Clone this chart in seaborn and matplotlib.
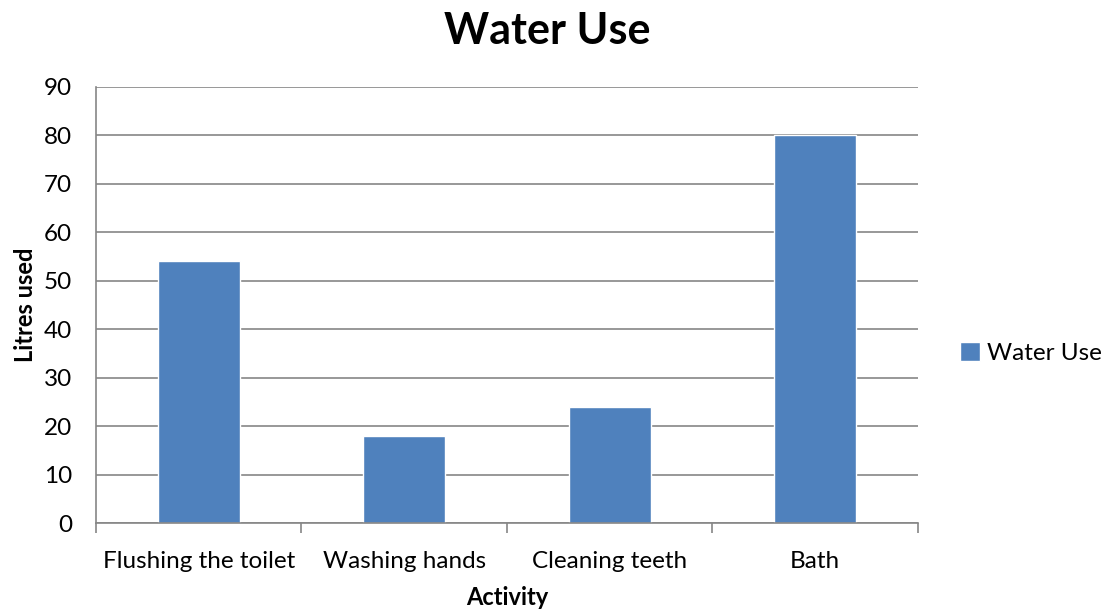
import matplotlib
matplotlib.use("Agg")
import matplotlib.pyplot as plt
import seaborn as sns
import pandas as pd

activities = ["Flushing the toilet", "Washing hands", "Cleaning teeth", "Bath"]
litres = [54, 18, 24, 80]
series_name = "Water Use"
y_ticks = [0, 10, 20, 30, 40, 50, 60, 70, 80, 90]

sns.set_theme(style="white")
plt.rcParams['font.family'] = ['Lato', 'DejaVu Sans']
plt.rcParams['text.color'] = 'black'
plt.rcParams['axes.labelcolor'] = 'black'

df = pd.DataFrame({"Activity": activities, "Litres used": litres, "Series": series_name})

fig = plt.figure(figsize=(11.02, 6.12), dpi=100)
ax = fig.add_axes([0.0871, 0.1454, 0.7459, 0.7126])

sns.barplot(data=df, x="Activity", y="Litres used", hue="Series", palette=["#4F81BD"],
            width=0.4, ax=ax, saturation=1, legend=True)

grid_c = "#868686"
ax.set_ylim(0, 90)
ax.set_xlim(-0.5, len(activities) - 0.5)
ax.set_yticks(y_ticks)
ax.yaxis.grid(True, color=grid_c, linewidth=1.2)
ax.set_axisbelow(True)
for s in ["top", "right"]:
    ax.spines[s].set_visible(False)
for s in ["left", "bottom"]:
    ax.spines[s].set_color(grid_c)
    ax.spines[s].set_linewidth(1.2)

ax.set_xticks(range(len(activities)))
ax.set_xticklabels(activities)
ax.tick_params(axis="x", length=0, labelsize=17.5, pad=20, colors="black")
ax.tick_params(axis="y", length=7, width=1.2, color=grid_c, labelsize=17.5, labelcolor="black", pad=10)
ax.set_xticks([i - 0.5 for i in range(len(activities) + 1)], minor=True)
ax.tick_params(axis="x", which="minor", length=7, width=1.2, color=grid_c, bottom=True)

ax.set_xlabel("Activity", fontsize=17, fontweight="bold", labelpad=10, color="black")
ax.set_ylabel("Litres used", fontsize=17, fontweight="bold", labelpad=5, color="black")
fig.suptitle("Water Use", fontsize=31, fontweight="bold", x=0.497, y=0.982, color="black")

ax.legend(loc="center left", bbox_to_anchor=(1.025, 0.39), frameon=False, fontsize=17.5,
          handlelength=0.8, handleheight=0.8, handletextpad=0.3)

fig.savefig("out.png", dpi=100)
